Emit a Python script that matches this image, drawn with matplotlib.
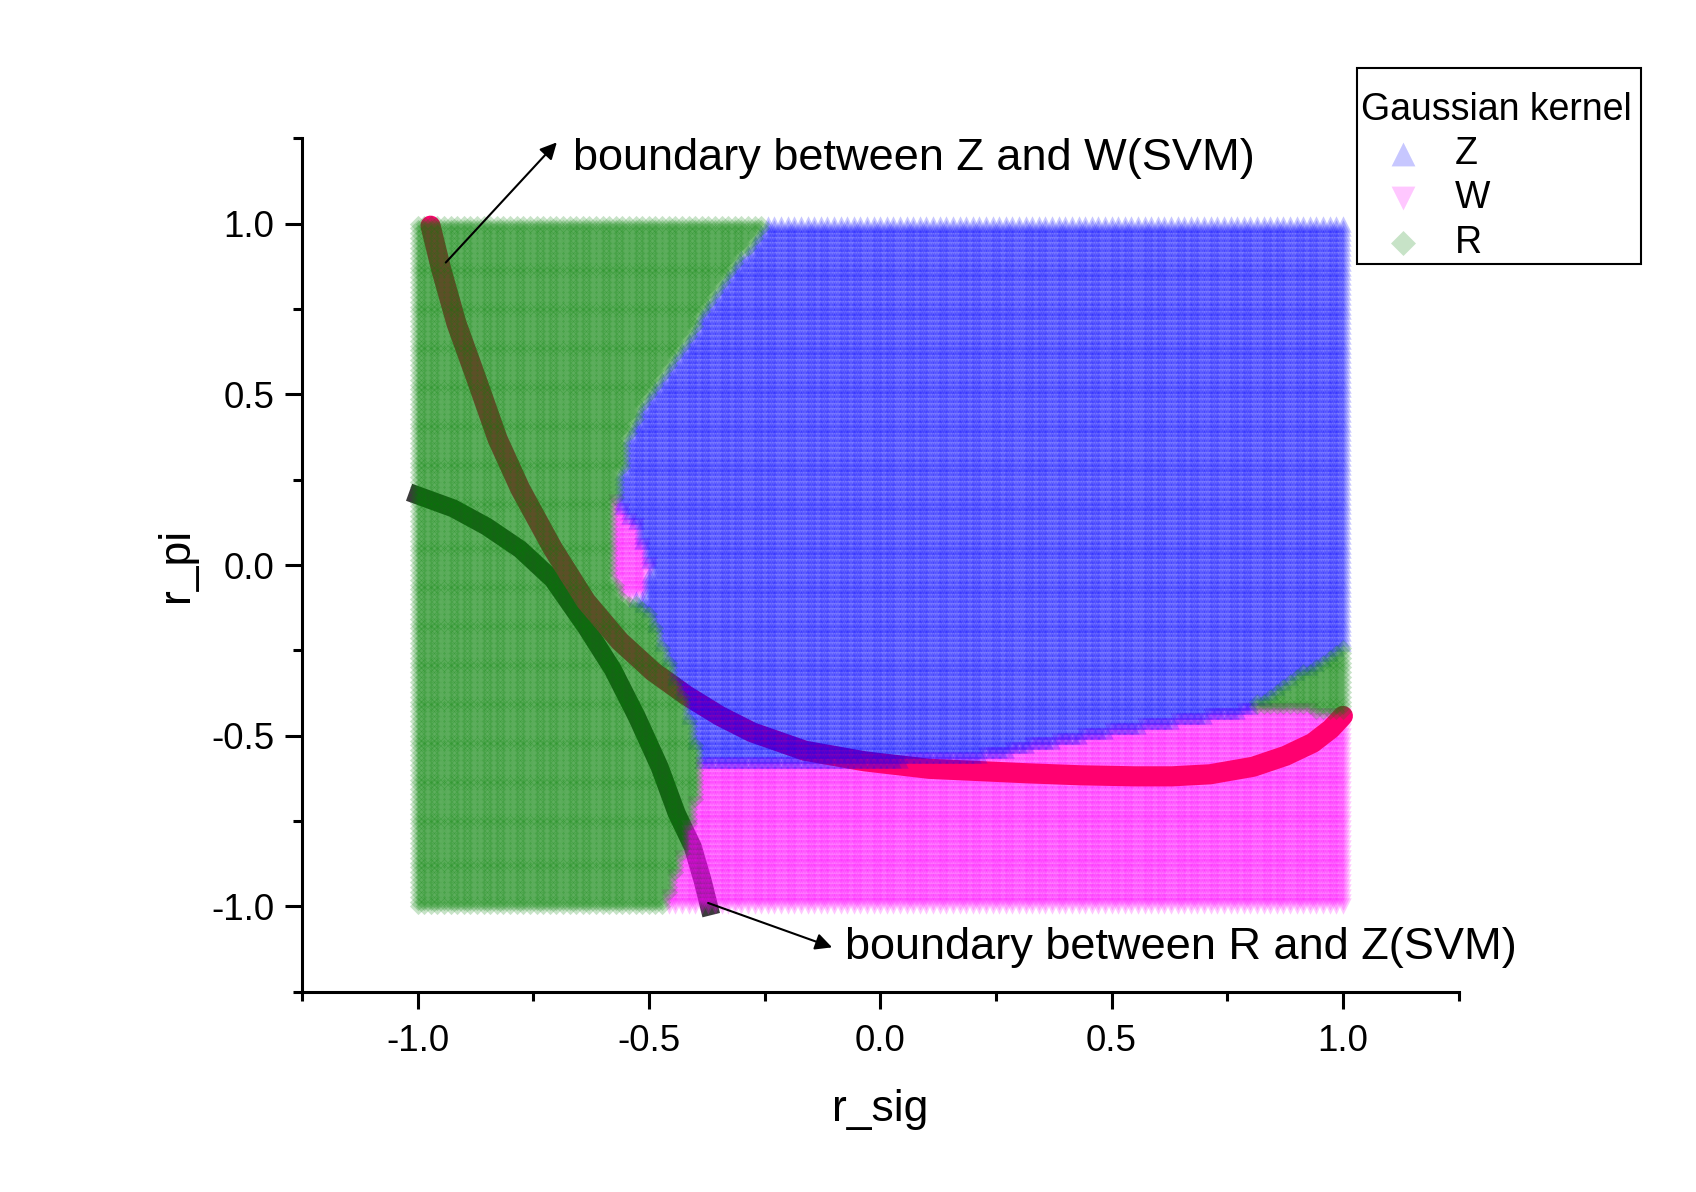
import numpy as np
import matplotlib
matplotlib.use("Agg")
import matplotlib.pyplot as plt
from matplotlib.patches import Rectangle

plt.rcParams['font.family'] = ['Liberation Sans', 'DejaVu Sans']
plt.rcParams['axes.unicode_minus'] = False

# grid of test points (r_sig, r_pi) in [-1, 1]
grid_x = np.linspace(-1, 1, 141)
grid_y = np.linspace(-1, 1, 141)

# left edge of the R (green) region: x of the boundary for a given r_pi
r_edge_y = [-1.0, -0.9, -0.8, -0.7, -0.575, -0.5, -0.415, -0.315, -0.16, -0.12, -0.09, 0.0, 0.1, 0.2, 0.288, 0.366, 0.483, 0.63, 0.778, 0.9, 1.0]
r_edge_x = [-0.47, -0.44, -0.42, -0.40, -0.39, -0.405, -0.419, -0.449, -0.491, -0.51, -0.56, -0.585, -0.585, -0.57, -0.556, -0.548, -0.505, -0.433, -0.363, -0.30, -0.246]

# small W pocket next to the R region (right edge)
pocket_y = [-0.10, -0.08, -0.005, 0.11, 0.19]
pocket_x = [-0.53, -0.505, -0.498, -0.526, -0.57]

# boundary between Z (above) and W (below)
zw_x = [-0.4, 0.0, 0.15, 0.2, 0.316, 0.433, 0.55, 0.666, 0.783, 0.9, 1.0]
zw_y = [-0.572, -0.572, -0.57, -0.563, -0.531, -0.499, -0.474, -0.452, -0.426, -0.425, -0.436]

# upper edge of the small R corner on the right
corner_x = [0.80, 1.0]
corner_y = [-0.41, -0.24]

# SVM boundary curves
zw_svm_x = [-0.972, -0.949, -0.916, -0.874, -0.827, -0.778, -0.708, -0.636, -0.563, -0.491, -0.419, -0.347, -0.277,
            -0.163, -0.034, 0.106, 0.316, 0.433, 0.55, 0.631, 0.713, 0.806, 0.876, 0.935, 0.974, 1.0]
zw_svm_y = [0.994, 0.867, 0.708, 0.550, 0.369, 0.223, 0.049, -0.106, -0.223, -0.312, -0.382, -0.442, -0.490,
            -0.544, -0.575, -0.597, -0.610, -0.616, -0.619, -0.619, -0.613, -0.591, -0.559, -0.521, -0.480, -0.442]
rz_svm_x = [-1.0, -0.923, -0.851, -0.778, -0.708, -0.636, -0.578, -0.526, -0.477, -0.440, -0.405, -0.384, -0.370]
rz_svm_y = [0.204, 0.166, 0.113, 0.046, -0.042, -0.182, -0.306, -0.445, -0.591, -0.727, -0.826, -0.924, -1.0]

X, Y = np.meshgrid(grid_x, grid_y)
X = X.ravel()
Y = Y.ravel()

is_r = X < np.interp(Y, r_edge_y, r_edge_x)
in_pocket = (Y >= min(pocket_y)) & (Y <= max(pocket_y)) & (X < np.interp(Y, pocket_y, pocket_x))
below_zw = Y < np.interp(X, zw_x, zw_y)
in_corner = (X > corner_x[0]) & (~below_zw) & (Y < np.interp(X, corner_x, corner_y))

cls = np.where(below_zw, 'W', 'Z')
cls[in_pocket] = 'W'
cls[in_corner] = 'R'
cls[is_r] = 'R'

fig = plt.figure(figsize=(16.96, 11.92), dpi=100)
ax = fig.add_axes([0.178, 0.168, 0.682, 0.716])

# R/Z curve sits under everything, Z/W curve sits above the W points only
ax.plot(rz_svm_x, rz_svm_y, color='#3c3c3c', lw=13, solid_capstyle='projecting', solid_joinstyle='round', zorder=0.5)
ax.plot(zw_svm_x, zw_svm_y, color='#ff0070', lw=14.5, solid_capstyle='round', solid_joinstyle='round', zorder=1.5)

ms = 140
a = 0.22
ax.scatter(X[cls == 'Z'], Y[cls == 'Z'], marker='^', s=ms, color='blue', alpha=a, lw=0, label='Z', zorder=2)
ax.scatter(X[cls == 'W'], Y[cls == 'W'], marker='v', s=ms, color='magenta', alpha=a, lw=0, label='W', zorder=1)
ax.scatter(X[cls == 'R'], Y[cls == 'R'], marker='D', s=ms * 0.55, color='green', alpha=a, lw=0, label='R', zorder=2)

arrow = dict(arrowstyle='-|>', color='black', lw=1.5, mutation_scale=25, shrinkA=0, shrinkB=0)
ax.annotate('', xy=(-0.699, 1.238), xytext=(-0.939, 0.886), arrowprops=arrow, annotation_clip=False)
ax.text(-0.664, 1.19, 'boundary between Z and W(SVM)', fontsize=32.5, va='center', ha='left')
ax.annotate('', xy=(-0.104, -1.12), xytext=(-0.372, -0.99), arrowprops=arrow, annotation_clip=False)
ax.text(-0.076, -1.12, 'boundary between R and Z(SVM)', fontsize=32.5, va='center', ha='left')

ax.set_xlim(-1.25, 1.25)
ax.set_ylim(-1.25, 1.25)
ax.set_xticks([-1.0, -0.5, 0.0, 0.5, 1.0])
ax.set_yticks([-1.0, -0.5, 0.0, 0.5, 1.0])
ax.set_xticks(np.arange(-1.25, 1.26, 0.25), minor=True)
ax.set_yticks(np.arange(-1.25, 1.26, 0.25), minor=True)
ax.tick_params(which='major', direction='out', length=12, width=2.2, labelsize=26.5)
ax.tick_params(which='minor', direction='out', length=6.5, width=2.2)
ax.tick_params(axis='x', which='major', pad=11)
ax.tick_params(axis='y', which='major', pad=8)
for side in ['top', 'right']:
    ax.spines[side].set_visible(False)
for side in ['left', 'bottom']:
    ax.spines[side].set_linewidth(2.2)

ax.set_xlabel('r_sig', fontsize=32, labelpad=22)
ax.set_ylabel('r_pi', fontsize=32, labelpad=10)

# legend without its own frame, box drawn separately
leg = fig.legend(loc='upper left', bbox_to_anchor=(0.8025, 0.923), bbox_transform=fig.transFigure,
                 title='Gaussian kernel', fontsize=27, title_fontsize=27, frameon=False,
                 borderpad=0, borderaxespad=0, handlelength=2.24, handletextpad=0.27,
                 labelspacing=0.22, markerscale=1.45)
leg._legend_box.align = 'left'
fig.patches.append(Rectangle((0.8001, 0.7785), 0.1675, 0.1645, transform=fig.transFigure,
                             fill=False, edgecolor='black', lw=1.5))

fig.savefig('out.png', dpi=100)
